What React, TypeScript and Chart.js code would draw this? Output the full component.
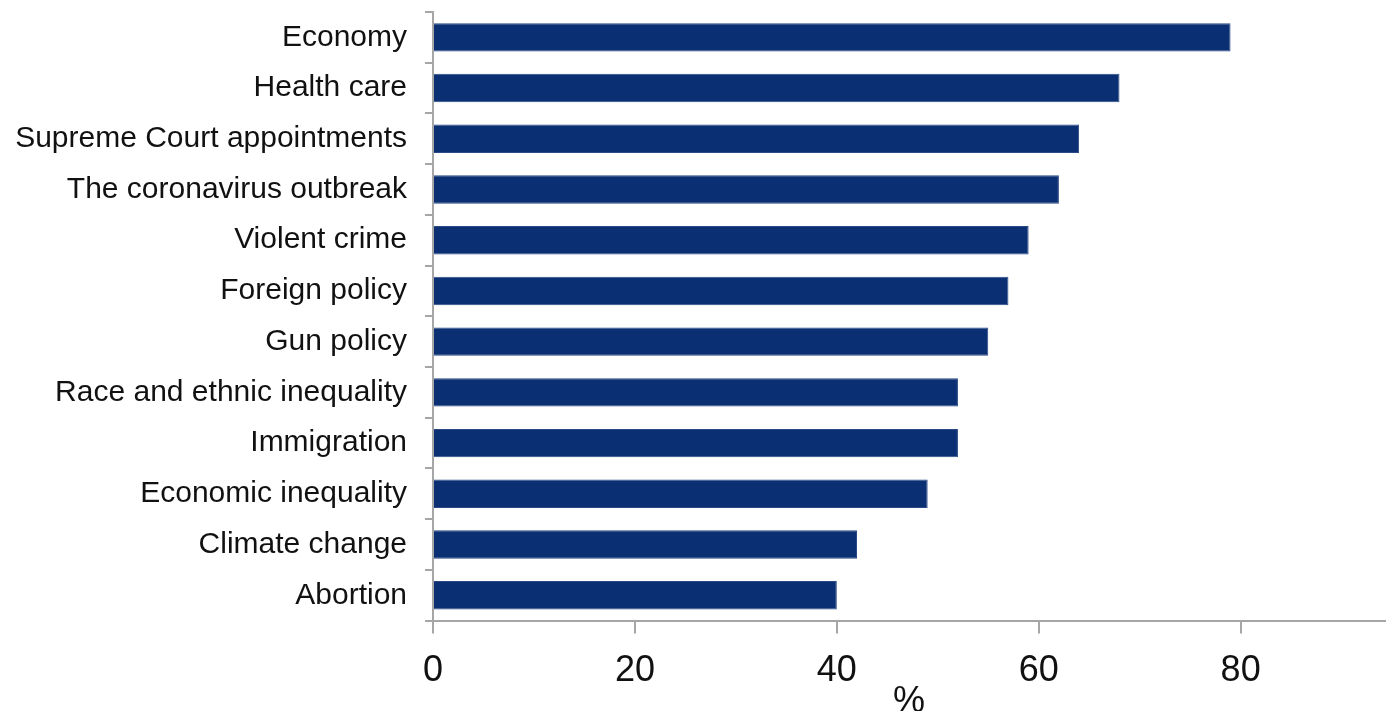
import React, { useEffect, useRef } from "react";
import { Chart, registerables } from "chart.js";

Chart.register(...registerables);

const categories = [
  "Economy",
  "Health care",
  "Supreme Court appointments",
  "The coronavirus outbreak",
  "Violent crime",
  "Foreign policy",
  "Gun policy",
  "Race and ethnic inequality",
  "Immigration",
  "Economic inequality",
  "Climate change",
  "Abortion",
];

const values = [79, 68, 64, 62, 59, 57, 55, 52, 52, 49, 42, 40];

const xAxisTitle = "%";
const xMin = 0;
const xMax = 94.3;
const xStep = 20;

const FONT = "'Liberation Sans', Arial, sans-serif";
const BAR_COLOR = "#0a2f72";
const AXIS_COLOR = "#a6a6a6";

export default function App() {
  const ref = useRef<HTMLCanvasElement | null>(null);

  useEffect(() => {
    document.body.style.margin = "0";
    const ctx = ref.current;
    if (!ctx) return;
    const chart = new Chart(ctx, {
      type: "bar",
      data: {
        labels: categories,
        datasets: [
          {
            data: values,
            backgroundColor: BAR_COLOR,
            borderColor: "#2a4a86",
            borderWidth: 1,
            categoryPercentage: 1,
            barPercentage: 0.56,
          },
        ],
      },
      options: {
        indexAxis: "y",
        animation: false,
        responsive: true,
        maintainAspectRatio: false,
        layout: { padding: { top: 12, right: 7, left: 0, bottom: 0 } },
        plugins: {
          legend: { display: false },
          tooltip: { enabled: false },
        },
        scales: {
          x: {
            type: "linear",
            min: xMin,
            max: xMax,
            afterFit: (scale: any) => {
              scale.paddingLeft = 0;
              scale.paddingRight = 0;
            },
            border: { display: true, color: AXIS_COLOR, width: 2 },
            grid: {
              display: true,
              drawOnChartArea: false,
              drawTicks: true,
              tickLength: 13,
              color: AXIS_COLOR,
              lineWidth: 2,
            },
            ticks: {
              stepSize: xStep,
              includeBounds: false,
              padding: 16,
              color: "#111",
              font: { family: FONT, size: 36 },
            },
            title: {
              display: true,
              text: xAxisTitle,
              color: "#111",
              font: { family: FONT, size: 36 },
              padding: { top: -28, bottom: 0 },
            },
          },
          y: {
            afterFit: (scale: any) => {
              scale.paddingTop = 0;
              scale.paddingBottom = 0;
              scale.width = 433;
            },
            border: { display: true, color: AXIS_COLOR, width: 2 },
            grid: {
              display: true,
              offset: true,
              drawOnChartArea: false,
              drawTicks: true,
              tickLength: 8,
              color: AXIS_COLOR,
              lineWidth: 2,
            },
            ticks: {
              padding: 18,
              color: "#111",
              font: { family: FONT, size: 30 },
            },
          },
        },
      },
    });
    return () => chart.destroy();
  }, []);

  return (
    <div style={{ width: 1392, height: 711, overflow: "hidden", position: "relative" }}>
      <div style={{ width: 1392, height: 724, position: "relative" }}>
        <canvas ref={ref} />
      </div>
    </div>
  );
}
